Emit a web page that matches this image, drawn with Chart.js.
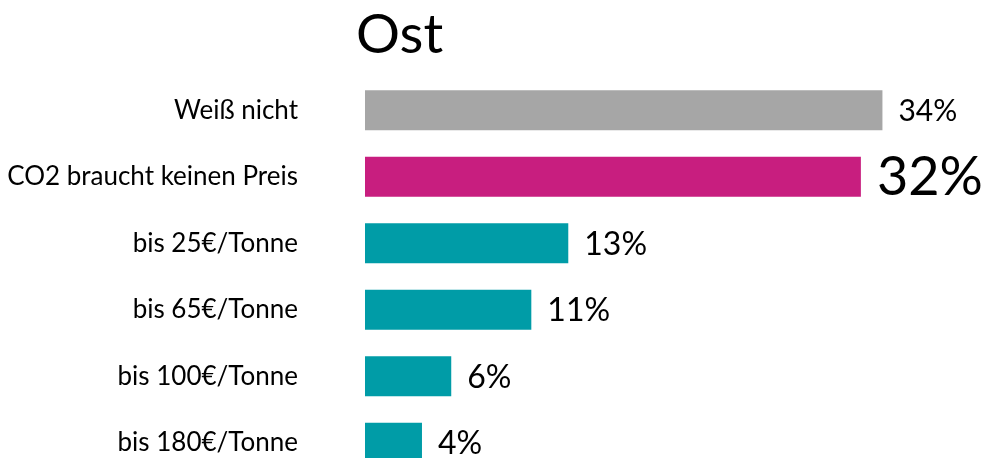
<!DOCTYPE html>
<html lang="de">
<head>
<meta charset="utf-8">
<title>Ost</title>
<script src="https://cdn.jsdelivr.net/npm/chart.js@4/dist/chart.umd.min.js"></script>
<style>
  html, body { margin: 0; padding: 0; background: #fff; overflow: hidden; }
  #wrap { width: 988px; height: 458px; overflow: hidden; }
</style>
</head>
<body>
<div id="wrap">
  <canvas id="myChart" width="988" height="476"></canvas>
</div>
<script>
// Daten
const categories = ['Weiß nicht', 'CO2 braucht keinen Preis', 'bis 25€/Tonne', 'bis 65€/Tonne', 'bis 100€/Tonne', 'bis 180€/Tonne'];
const values = [33.6, 32.2, 13.2, 10.8, 5.6, 3.7];
const valueLabels = ['34%', '32%', '13%', '11%', '6%', '4%'];
const chartTitle = 'Ost';

// Farben und Schriftgrößen der Werte
const barColors = ['#A6A6A6', '#C81E7F', '#009CA7', '#009CA7', '#009CA7', '#009CA7'];
const labelSizes = [30, 54, 32, 32, 32, 32];
const fontFamily = 'Lato, "Noto Sans", sans-serif';

// Titel über den Balken
const titlePlugin = {
    id: 'ostTitle',
    afterDraw(chart) {
        const ctx = chart.ctx;
        ctx.save();
        ctx.fillStyle = '#000';
        ctx.font = '55px ' + fontFamily;
        ctx.textAlign = 'left';
        ctx.textBaseline = 'alphabetic';
        ctx.fillText(chartTitle, chart.chartArea.left - 9, 53);
        ctx.restore();
    }
};

// Prozentwerte rechts neben den Balken
const valueLabelPlugin = {
    id: 'valueLabels',
    afterDatasetsDraw(chart) {
        const ctx = chart.ctx;
        const meta = chart.getDatasetMeta(0);
        ctx.save();
        ctx.fillStyle = '#000';
        ctx.textAlign = 'left';
        ctx.textBaseline = 'middle';
        meta.data.forEach((bar, i) => {
            ctx.font = labelSizes[i] + 'px ' + fontFamily;
            ctx.fillText(valueLabels[i], bar.x + 16, bar.y + 1);
        });
        ctx.restore();
    }
};

const ctx = document.getElementById('myChart').getContext('2d');
const myChart = new Chart(ctx, {
    type: 'bar',
    data: {
        labels: categories,
        datasets: [{
            data: values,
            backgroundColor: barColors,
            borderWidth: 0,
            categoryPercentage: 1,
            barPercentage: 0.6
        }]
    },
    options: {
        indexAxis: 'y',
        responsive: false,
        animation: false,
        layout: {
            padding: { top: 77, right: 7, bottom: 0, left: 0 }
        },
        plugins: {
            legend: { display: false },
            tooltip: { enabled: false }
        },
        scales: {
            x: {
                display: false,
                min: 0,
                max: 40
            },
            y: {
                grid: { display: false, drawTicks: false },
                border: { display: false },
                ticks: {
                    autoSkip: false,
                    color: '#000',
                    padding: 67,
                    font: { family: fontFamily, size: 26 }
                },
                afterFit(scale) {
                    // feste Breite links, kein zusätzlicher Rand oben/unten
                    scale.width = 365;
                    scale.paddingTop = 0;
                    scale.paddingBottom = 0;
                }
            }
        }
    },
    plugins: [titlePlugin, valueLabelPlugin]
});
</script>
</body>
</html>
